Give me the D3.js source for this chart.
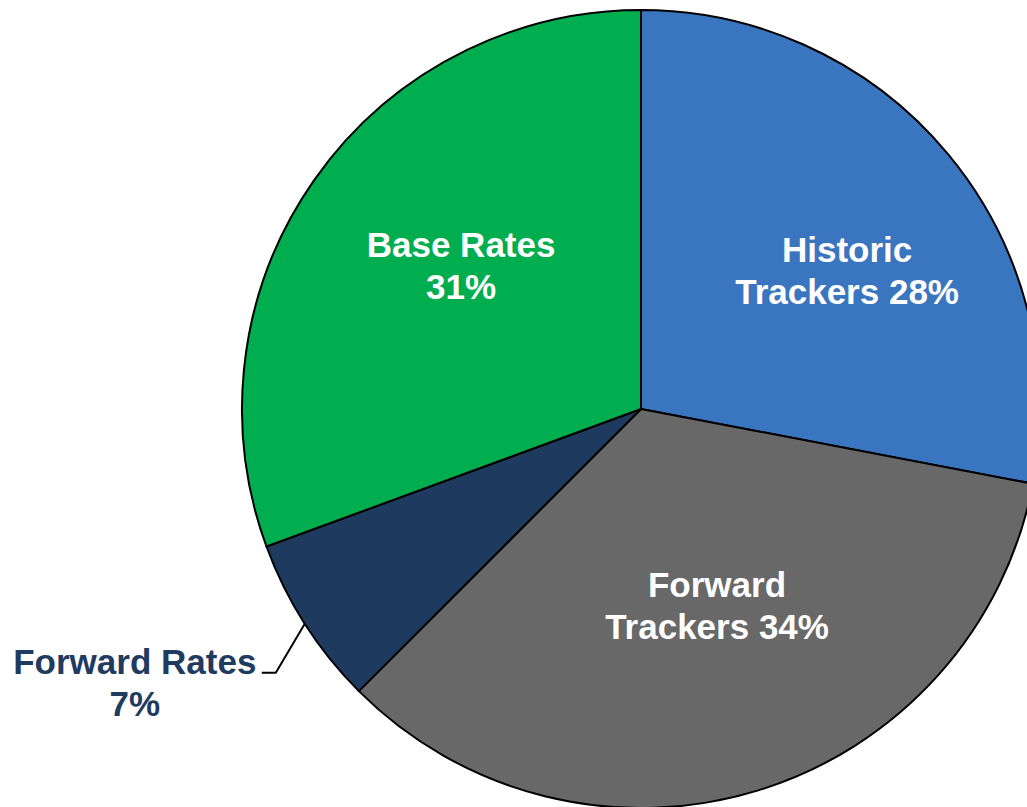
<!DOCTYPE html>
<html>
<head>
<meta charset="utf-8">
<script src="https://cdn.jsdelivr.net/npm/d3@7"></script>
<style>
html,body{margin:0;padding:0;background:#fff;}
svg{display:block;}
text{font-family:"Liberation Sans",Arial,sans-serif;font-weight:bold;}
</style>
</head>
<body>
<svg id="chart" width="1027" height="807"></svg>
<script>
const categories = ["Historic Trackers", "Forward Trackers", "Forward Rates", "Base Rates"];
const values = [28.0, 34.5, 6.9, 30.6];
const labelLines = [["Historic", "Trackers 28%"], ["Forward", "Trackers 34%"], ["Forward Rates", "7%"], ["Base Rates", "31%"]];
const colors = ["#3A76BF", "#686868", "#1E3B5F", "#00AD4F"];

const W = 1027, H = 807;
const cx = 641, cy = 409, R = 399;
const svg = d3.select("#chart");
const g = svg.append("g").attr("transform", `translate(${cx},${cy})`);

const pie = d3.pie().sort(null).value(d => d)(values);
const arc = d3.arc().innerRadius(0).outerRadius(R);
const labelArc = d3.arc().innerRadius(R * 0.55).outerRadius(R * 0.55);

g.selectAll("path.slice").data(pie).join("path")
  .attr("class", "slice")
  .attr("d", arc)
  .attr("fill", (d, i) => colors[i])
  .attr("stroke", "#000")
  .attr("stroke-width", 2)
  .attr("stroke-linejoin", "round");

// inside labels (nudged from centroid)
const nudges = [[37, 14], [11.5, -1], null, [0, -5.4]];
const lh = 42;
pie.forEach((d, i) => {
  if (!nudges[i]) return;
  const [x, y] = labelArc.centroid(d);
  const t = g.append("text")
    .attr("text-anchor", "middle")
    .attr("fill", "#fff")
    .attr("font-size", 35);
  labelLines[i].forEach((ln, k) => {
    t.append("tspan").attr("x", x + nudges[i][0])
      .attr("y", y + nudges[i][1] - lh / 2 + k * lh)
      .text(ln);
  });
});

// outside label for Forward Rates with leader line
{
  const i = 2, d = pie[i];
  const a = (d.startAngle + d.endAngle) / 2;
  const p0 = [Math.sin(a) * R, -Math.cos(a) * R];
  const elbow = [p0[0] - 29, p0[1] + 49];
  const end = [elbow[0] - 14, elbow[1]];
  g.append("polyline")
    .attr("points", [p0, elbow, end].map(p => p.join(",")).join(" "))
    .attr("fill", "none").attr("stroke", "#000").attr("stroke-width", 2);
  const tx = end[0] - 127;
  const t = g.append("text")
    .attr("text-anchor", "middle")
    .attr("fill", "#1F3B5F")
    .attr("font-size", 35);
  labelLines[i].forEach((ln, k) => {
    t.append("tspan").attr("x", tx).attr("y", end[1] + 1 + k * lh).text(ln);
  });
}
</script>
</body>
</html>
